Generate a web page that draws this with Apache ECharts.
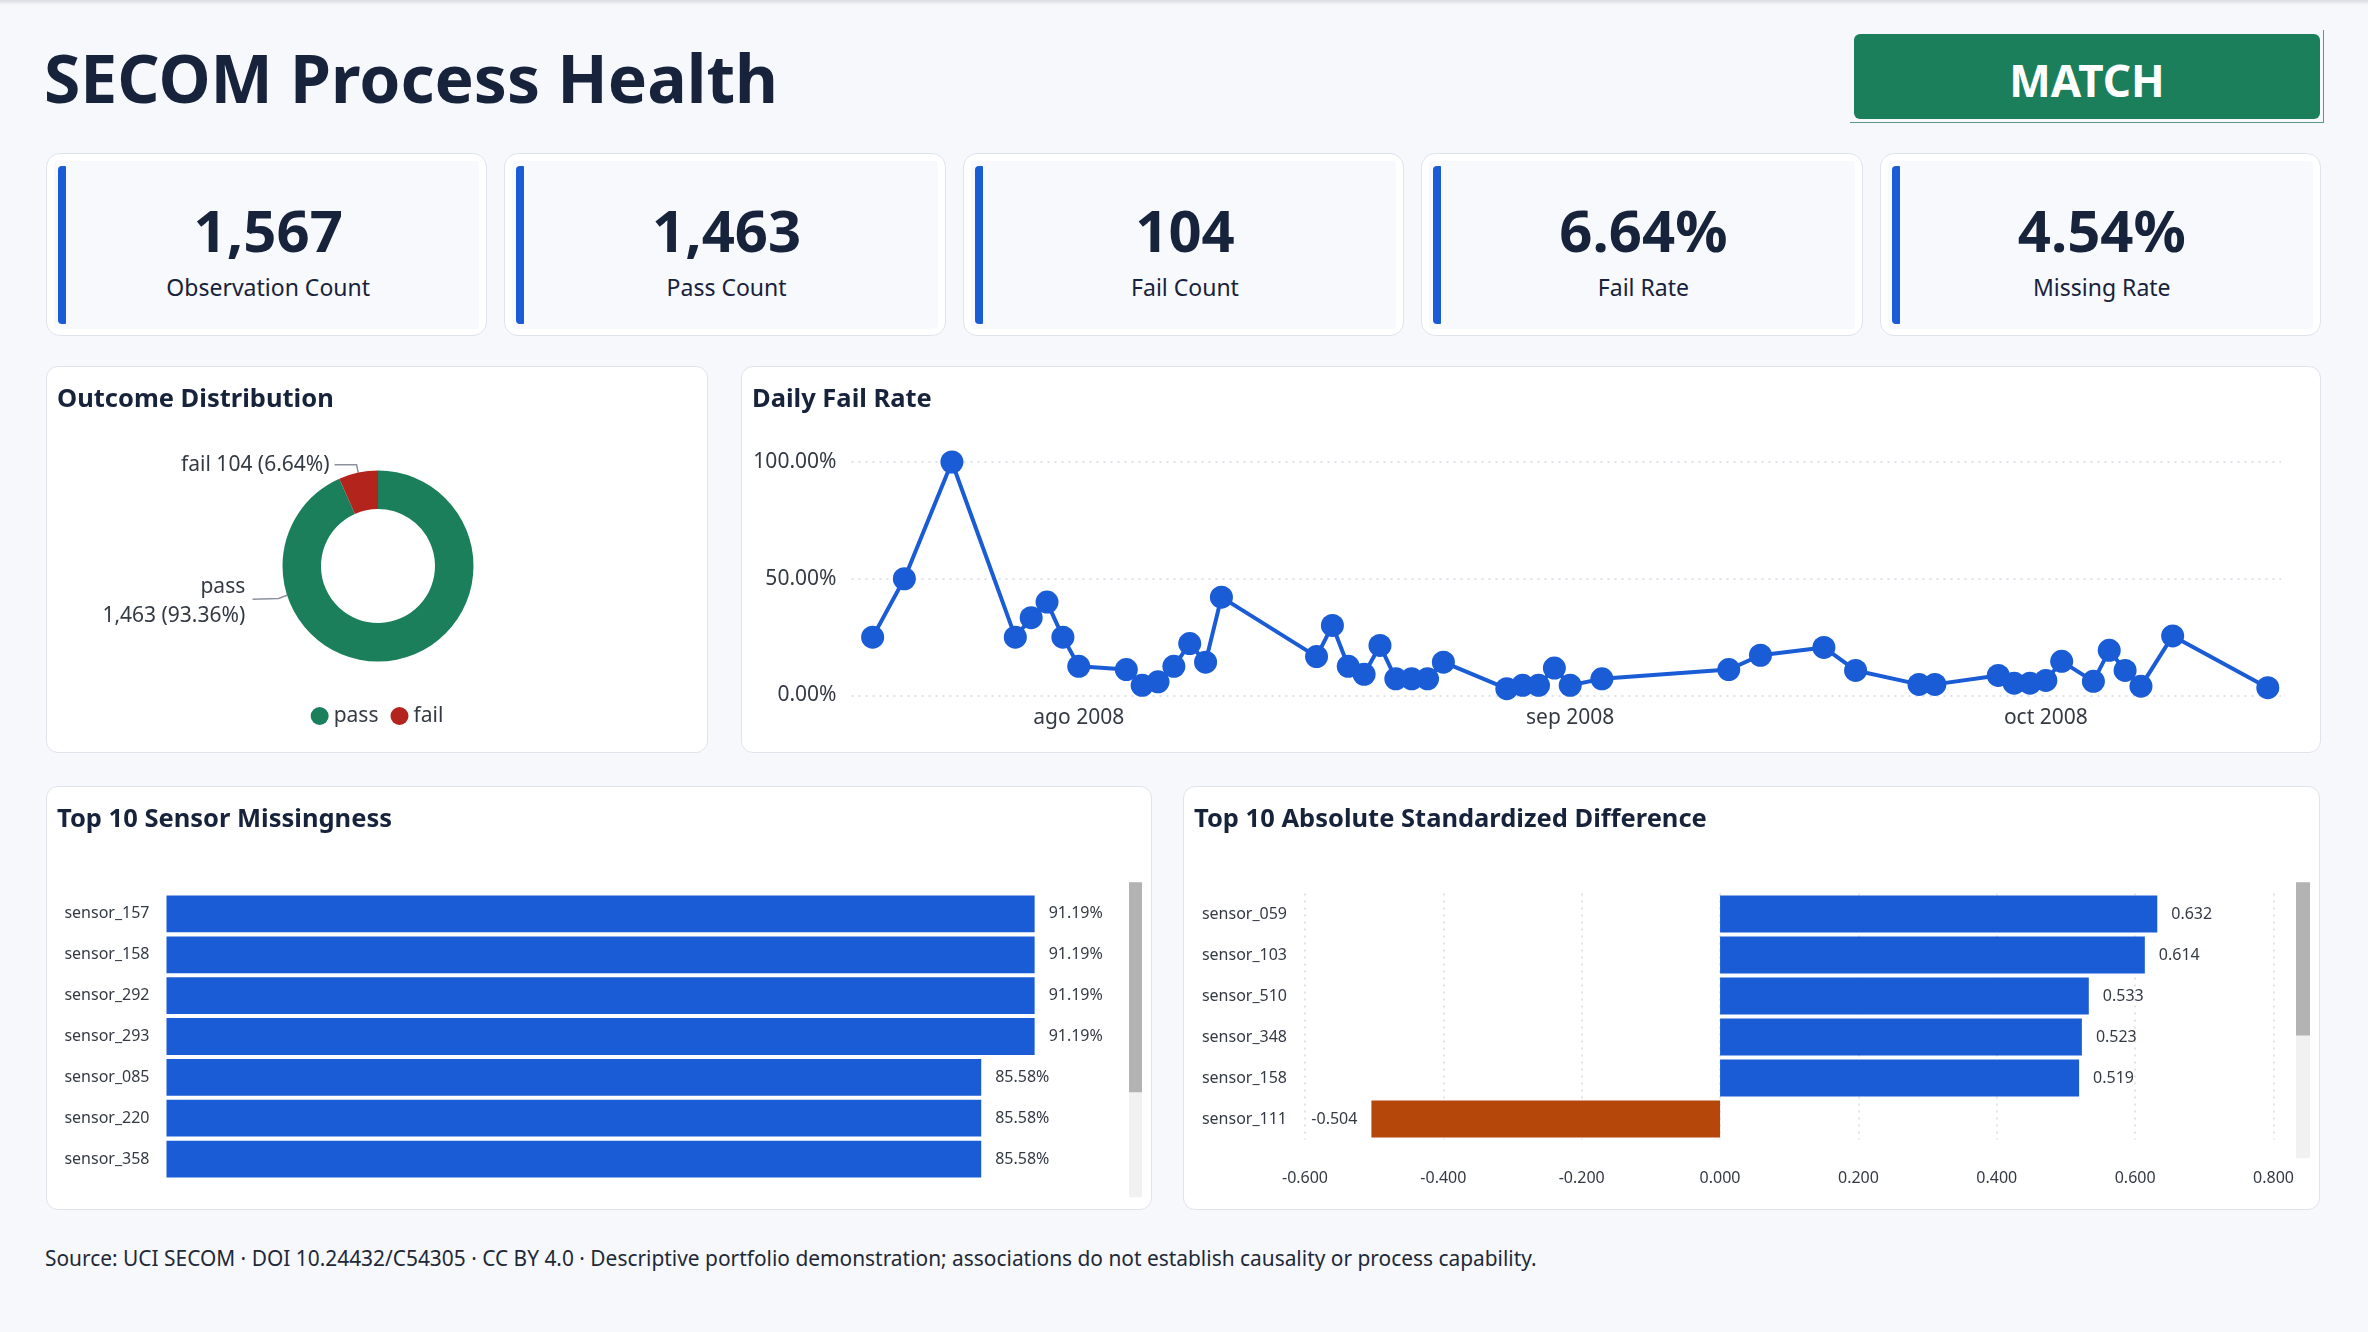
<!DOCTYPE html>
<html><head><meta charset="utf-8">
<script src="https://cdn.jsdelivr.net/npm/echarts@6/dist/echarts.min.js"></script>
<style>
html,body{margin:0;padding:0;}
body{width:2368px;height:1332px;background:#f6f8fc;font-family:"Noto Sans",sans-serif;color:#17223b;position:relative;overflow:hidden;}
.topshade{position:absolute;left:0;top:0;width:100%;height:5px;background:linear-gradient(#d9dce1,rgba(246,248,252,0));}
.title{position:absolute;left:44px;top:37px;font-size:66px;line-height:80px;font-weight:700;margin:0;white-space:nowrap;}
.badgewrap{position:absolute;left:1850px;top:30px;width:474px;height:93px;border-right:1.5px solid #5a9a84;border-bottom:1.5px solid #5a9a84;box-sizing:border-box;}
.badge{position:absolute;left:1854px;top:34px;width:466px;height:85px;background:#1c7f5b;border-radius:6px;color:#fff;font-weight:700;font-size:44px;line-height:93px;text-align:center;}
.kpis{position:absolute;left:46px;top:153px;width:2275px;height:183px;display:grid;grid-template-columns:repeat(5,1fr);column-gap:17px;}
.kpi{position:relative;background:#fff;border:1.5px solid #dfe4ec;border-radius:14px;box-sizing:border-box;}
.kpi .inner{position:absolute;left:7px;right:7px;top:7px;bottom:6px;background:#f7f9fc;border-radius:4px;}
.kpi .bar{position:absolute;left:11px;top:12px;width:8px;height:158px;background:#1a5cd6;border-radius:4px 1px 1px 4px;}
.kpi .v{position:absolute;left:3px;right:0;top:43px;text-align:center;font-size:58px;font-weight:700;line-height:66px;}
.kpi .l{position:absolute;left:3px;right:0;top:118px;text-align:center;font-size:23px;line-height:30px;}
.panel{position:absolute;background:#fff;border:1.5px solid #dfe4ec;border-radius:12px;box-sizing:border-box;}
.ptitle{position:absolute;left:10px;top:14px;font-size:25.5px;font-weight:700;line-height:32px;z-index:2;white-space:nowrap;}
.chart{position:absolute;left:0;top:0;width:100%;height:100%;}
.footer{position:absolute;left:45px;top:1244px;font-size:20.9px;line-height:28px;color:#1f2937;white-space:nowrap;}
</style></head>
<body>
<div class="topshade"></div>
<h1 class="title">SECOM Process Health</h1>
<div class="badgewrap"></div>
<div class="badge">MATCH</div>
<div class="kpis" id="kpis"></div>

<div class="panel" style="left:46px;top:366px;width:662px;height:387px;">
  <div class="ptitle">Outcome Distribution</div><div class="chart" id="c1"></div></div>
<div class="panel" style="left:741px;top:366px;width:1580px;height:387px;">
  <div class="ptitle">Daily Fail Rate</div><div class="chart" id="c2"></div></div>
<div class="panel" style="left:46px;top:786px;width:1106px;height:424px;">
  <div class="ptitle">Top 10 Sensor Missingness</div><div class="chart" id="c3"></div></div>
<div class="panel" style="left:1183px;top:786px;width:1137px;height:424px;">
  <div class="ptitle">Top 10 Absolute Standardized Difference</div><div class="chart" id="c4"></div></div>

<div class="footer">Source: UCI SECOM · DOI 10.24432/C54305 · CC BY 4.0 · Descriptive portfolio demonstration; associations do not establish causality or process capability.</div>

<script>
// ---- data ----
const kpiValues = ['1,567', '1,463', '104', '6.64%', '4.54%'];
const kpiLabels = ['Observation Count', 'Pass Count', 'Fail Count', 'Fail Rate', 'Missing Rate'];

const outcomeNames = ['pass', 'fail'];
const outcomeCounts = [1463, 104];

const dailyDates = ['2008-07-19','2008-07-21','2008-07-24','2008-07-28','2008-07-29','2008-07-30','2008-07-31',
  '2008-08-01','2008-08-04','2008-08-05','2008-08-06','2008-08-07','2008-08-08','2008-08-09','2008-08-10',
  '2008-08-16','2008-08-17','2008-08-18','2008-08-19','2008-08-20','2008-08-21','2008-08-22','2008-08-23','2008-08-24',
  '2008-08-28','2008-08-29','2008-08-30','2008-08-31','2008-09-01','2008-09-03',
  '2008-09-11','2008-09-13','2008-09-17','2008-09-19','2008-09-23','2008-09-24',
  '2008-09-28','2008-09-29','2008-09-30','2008-10-01','2008-10-02',
  '2008-10-04','2008-10-05','2008-10-06','2008-10-07','2008-10-09','2008-10-15'];
const dailyFailRate = [25,50,100,25,33.33,40,25,
  12.5,11.11,4.35,5.88,12.5,22.22,14.29,42.11,
  16.67,30,12.5,9.09,21.43,7.14,7.14,7.14,14.29,
  2.94,4.35,4.35,11.76,4.35,7.14,
  11.11,17.24,20.59,10.71,4.76,4.76,
  8.57,5.26,5.26,6.45,14.63,
  6.06,19.35,10.71,4,25.53,3.33];
const rateTicks = [0, 50, 100];
const monthNames = ['ene','feb','mar','abr','may','jun','jul','ago','sep','oct','nov','dic'];

const missSensors = ['sensor_157','sensor_158','sensor_292','sensor_293','sensor_085','sensor_220','sensor_358','sensor_492','sensor_110','sensor_245'];
const missPct = [91.19,91.19,91.19,91.19,85.58,85.58,85.58,85.58,64.97,64.97];

const diffSensors = ['sensor_059','sensor_103','sensor_510','sensor_348','sensor_158','sensor_111','sensor_060','sensor_431','sensor_511','sensor_434'];
const diffVals = [0.632,0.614,0.533,0.523,0.519,-0.504,0.497,-0.481,0.476,0.468];
const diffTicks = [-0.6,-0.4,-0.2,0,0.2,0.4,0.6,0.8];

// ---- styles ----
const BLUE = '#1a5cd6', GREEN = '#1c7f5b', RED = '#b3241c', ORANGE = '#b5470b';
const TXT = '#343a44', FONT = 'Noto Sans';
const DOTS = [2, 5];

// KPI cards
document.getElementById('kpis').innerHTML = kpiValues.map((v, i) =>
  '<div class="kpi"><div class="inner"></div><div class="bar"></div><div class="v">' + v + '</div><div class="l">' + kpiLabels[i] + '</div></div>').join('');

// ---- donut ----
const c1 = echarts.init(document.getElementById('c1'));
c1.setOption({
  textStyle: {fontFamily: FONT},
  color: [GREEN, RED],
  legend: {
    top: 333.5, left: 'center', icon: 'circle', itemWidth: 18, itemHeight: 18, itemGap: 12,
    textStyle: {fontSize: 21, color: TXT, fontFamily: FONT}, data: outcomeNames
  },
  series: [{
    type: 'pie', radius: [57, 95.5], center: [331, 199], startAngle: 90, clockwise: true,
    avoidLabelOverlap: false,
    data: outcomeNames.map((n, i) => ({name: n, value: outcomeCounts[i]})),
    label: {
      show: true, position: 'outside', fontSize: 21, color: TXT, lineHeight: 29, fontFamily: FONT,
      formatter: p => p.name + (p.dataIndex === 0 ? '\n' : ' ') + p.value.toLocaleString('en-US') + ' (' + p.percent.toFixed(2) + '%)'
    },
    labelLine: {show: true, length: 8, length2: 22, lineStyle: {color: '#8b929c', width: 1.5}},
    labelLayout: function (p) {
      if (p.dataIndex !== 0) return {};
      const r = p.rect, R = r.width / 2, cx = r.x + R, cy = r.y + r.height / 2;
      return {
        x: cx - 1.39 * R, y: cy + 0.367 * R, align: 'right', verticalAlign: 'middle',
        labelLinePoints: [[cx - 0.953 * R, cy + 0.307 * R], [cx - 1.04 * R, cy + 0.341 * R], [cx - 1.314 * R, cy + 0.349 * R]]
      };
    },
    emphasis: {disabled: true}
  }]
});

// ---- daily fail rate ----
const c2 = echarts.init(document.getElementById('c2'));
c2.setOption({
  textStyle: {fontFamily: FONT},
  grid: {left: 109.5, right: 39, top: 95, bottom: 56.5},
  xAxis: {
    type: 'time', min: +new Date(2008, 6, 17, 16), max: +new Date(2008, 9, 15, 20),
    splitNumber: 3, minInterval: 28 * 864e5,
    axisLine: {show: false}, axisTick: {show: false}, splitLine: {show: false},
    axisLabel: {
      fontSize: 21, color: TXT, margin: 12, showMinLabel: false, showMaxLabel: false,
      formatter: function (v) {
        const d = new Date(v);
        if (d.getDate() !== 1 || d.getHours() !== 0) return '';
        return monthNames[d.getMonth()] + ' ' + d.getFullYear();
      }
    }
  },
  yAxis: {
    type: 'value', min: rateTicks[0], max: rateTicks[rateTicks.length - 1], interval: rateTicks[1] - rateTicks[0],
    axisLine: {show: false}, axisTick: {show: false},
    axisLabel: {fontSize: 21, color: TXT, margin: 15, formatter: v => v.toFixed(2) + '%'},
    splitLine: {lineStyle: {type: DOTS, color: '#d3d8df', width: 1.5}}
  },
  series: [{
    type: 'line', data: dailyDates.map((d, i) => [d, dailyFailRate[i]]),
    symbol: 'circle', symbolSize: 23, showAllSymbol: true,
    lineStyle: {width: 4, color: BLUE}, itemStyle: {color: BLUE}, emphasis: {disabled: true}
  }]
});

// ---- scrollbar-like dataZoom ----
function scroller(endValue, top, height, width) {
  return {
    type: 'slider', yAxisIndex: 0, startValue: 0, endValue: endValue, zoomLock: true,
    right: 9.5, width: width, top: top, height: height,
    showDetail: false, showDataShadow: false, brushSelect: false,
    backgroundColor: '#f1f1f1', fillerColor: '#b3b3b3', borderColor: 'transparent', borderRadius: 7,
    handleSize: 0, handleStyle: {opacity: 0}, moveHandleSize: 0, moveHandleStyle: {opacity: 0},
    dataBackground: {lineStyle: {opacity: 0}, areaStyle: {opacity: 0}},
    selectedDataBackground: {lineStyle: {opacity: 0}, areaStyle: {opacity: 0}},
    emphasis: {handleStyle: {opacity: 0}, moveHandleStyle: {opacity: 0}}
  };
}

// ---- missingness ----
const c3 = echarts.init(document.getElementById('c3'));
c3.setOption({
  textStyle: {fontFamily: FONT},
  grid: {left: 119.5, right: 32.5, top: 106.5, height: 286},
  xAxis: {type: 'value', min: 0, max: 100, show: false},
  yAxis: {
    type: 'category', inverse: true, data: missSensors,
    axisLine: {show: false}, axisTick: {show: false},
    axisLabel: {fontSize: 16, color: TXT, margin: 17}
  },
  dataZoom: [scroller(6, 94.5, 315, 13)],
  series: [{
    type: 'bar', data: missPct, barCategoryGap: '10%', itemStyle: {color: BLUE},
    label: {show: true, position: 'right', distance: 14, fontSize: 16, color: TXT, formatter: p => p.value.toFixed(2) + '%'},
    emphasis: {disabled: true}
  }]
});

// ---- standardized difference ----
const c4 = echarts.init(document.getElementById('c4'));
c4.setOption({
  textStyle: {fontFamily: FONT},
  grid: {left: 121, right: 45.5, top: 106.5, height: 246},
  xAxis: {
    type: 'value', min: diffTicks[0], max: diffTicks[diffTicks.length - 1], interval: 0.2,
    axisLine: {show: false}, axisTick: {show: false},
    axisLabel: {fontSize: 16, color: TXT, margin: 30.5, formatter: v => v.toFixed(3)},
    splitLine: {show: true, lineStyle: {type: DOTS, color: '#d6dae0', width: 1.5}}
  },
  yAxis: {
    type: 'category', inverse: true, data: diffSensors,
    axisLine: {show: false, onZero: false}, axisTick: {show: false},
    axisLabel: {fontSize: 16, color: TXT, margin: 18}
  },
  dataZoom: [scroller(5, 94.5, 276, 14)],
  series: [{
    type: 'bar', barCategoryGap: '10%',
    data: diffVals.map(v => ({value: v, itemStyle: {color: v < 0 ? ORANGE : BLUE}, label: {position: v < 0 ? 'left' : 'right'}})),
    label: {show: true, distance: 14, fontSize: 16, color: TXT, formatter: p => p.value.toFixed(3)},
    emphasis: {disabled: true}
  }]
});
</script>
</body></html>
